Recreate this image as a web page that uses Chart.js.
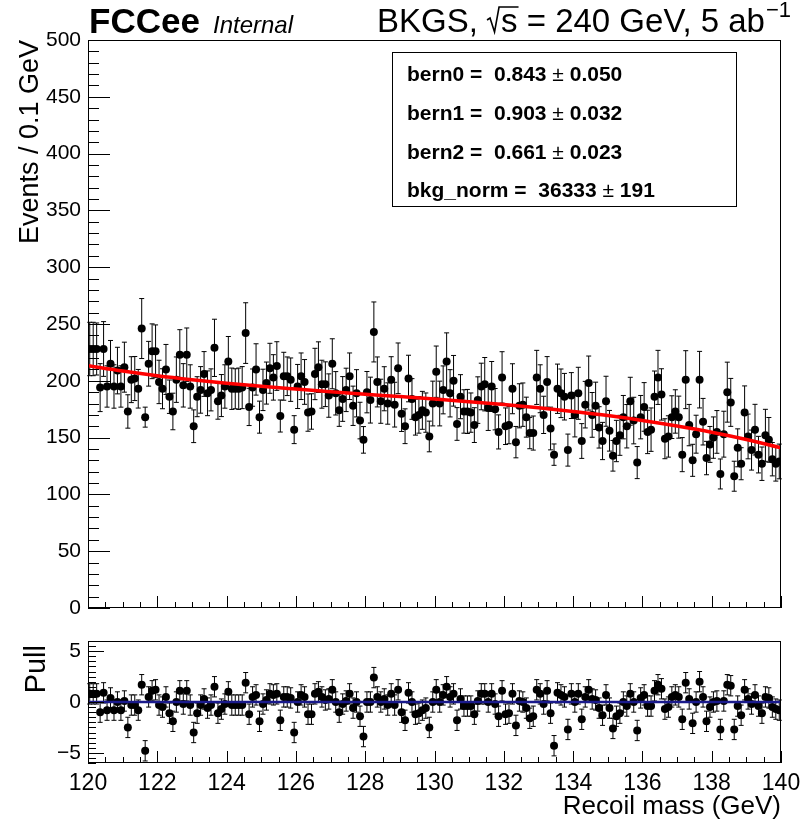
<!DOCTYPE html>
<html>
<head>
<meta charset="utf-8">
<script src="https://cdn.jsdelivr.net/npm/chart.js@4.4.1/dist/chart.umd.min.js"></script>
<style>
html, body { margin: 0; padding: 0; background: #fff; }
#wrap { position: relative; width: 809px; height: 819px; background: #fff; }
#main { position: absolute; left: 0; top: 0; }
#pull { position: absolute; left: 0; top: 620px; }
</style>
</head>
<body>
<div id="wrap">
  <canvas id="main" width="809" height="620"></canvas>
  <canvas id="pull" width="809" height="199"></canvas>
</div>
<script>
// binning of the histogram
const massMin = 120, massMax = 140, binWidth = 0.1;

// events per 0.1 GeV bin
const counts = [
  228, 228, 228, 194, 228, 195, 215, 195, 209, 195, 212, 173, 201, 202, 193, 246, 168, 215, 226, 226,
  199, 193, 210, 186, 173, 201, 223, 196, 223, 195, 160, 186, 192, 206, 189, 192, 229, 182, 187, 195,
  217, 193, 193, 193, 194, 242, 177, 194, 210, 168, 192, 198, 211, 203, 213, 169, 204, 204, 201, 157,
  195, 204, 199, 172, 173, 206, 212, 197, 197, 187, 215, 189, 174, 184, 192, 204, 178, 189, 165, 148,
  190, 183, 243, 199, 182, 193, 180, 201, 179, 211, 171, 160, 202, 184, 168, 170, 174, 172, 151, 180,
  208, 180, 192, 217, 189, 200, 162, 186, 173, 173, 172, 161, 183, 195, 197, 176, 195, 175, 155, 203,
  160, 161, 193, 146, 178, 179, 168, 154, 154, 203, 193, 170, 199, 158, 135, 193, 189, 186, 139, 187,
  170, 189, 147, 179, 198, 170, 178, 159, 147, 182, 156, 134, 147, 152, 168, 160, 182, 165, 128, 168,
  177, 155, 157, 186, 203, 188, 149, 151, 168, 173, 168, 135, 201, 161, 130, 153, 201, 164, 132, 144,
  150, 155, 118, 153, 190, 181, 116, 141, 127, 172, 151, 139, 157, 135, 127, 152, 148, 131, 127, 129
];

// half length of each error bar (weighted events)
const errors = [
  23.5, 23.5, 22.9, 21.1, 24.1, 18.2, 20.5, 19.1, 20.5, 18.2, 22.0, 14.7, 20.2, 19.4, 17.0, 26.4, 8.8, 19.7, 24.1, 23.2,
  19.1, 17.6, 22.0, 14.7, 16.1, 20.0, 22.0, 19.1, 23.5, 19.1, 14.4, 17.6, 20.5, 19.7, 19.7, 18.5, 25.2, 15.8, 18.5, 19.1,
  22.0, 18.2, 17.6, 18.2, 18.5, 26.7, 16.4, 16.4, 22.6, 14.1, 18.2, 18.5, 22.0, 20.0, 21.4, 14.1, 21.1, 17.0, 19.1, 12.3,
  19.4, 20.5, 19.7, 16.4, 15.6, 22.6, 22.3, 21.1, 19.7, 19.1, 22.0, 19.1, 14.1, 19.7, 19.1, 20.5, 17.3, 20.8, 16.1, 11.7,
  18.2, 20.2, 26.4, 22.0, 19.4, 19.4, 18.2, 20.2, 19.7, 22.3, 15.6, 15.3, 20.5, 17.9, 15.8, 16.1, 16.7, 17.3, 13.5, 19.7,
  22.6, 19.7, 21.1, 25.2, 20.8, 22.3, 14.4, 19.4, 19.1, 19.4, 17.3, 15.3, 20.5, 20.5, 23.5, 19.7, 22.0, 18.2, 15.0, 22.6,
  16.1, 16.4, 22.0, 13.8, 19.4, 19.1, 17.6, 13.8, 15.0, 23.8, 21.1, 16.4, 22.3, 18.8, 9.4, 21.7, 21.4, 20.5, 14.1, 20.2,
  19.4, 22.9, 15.3, 20.5, 23.8, 19.7, 20.8, 18.2, 16.4, 22.0, 17.9, 13.5, 18.2, 17.6, 19.1, 19.1, 21.1, 20.5, 14.1, 19.1,
  21.4, 19.1, 19.1, 22.6, 23.8, 22.6, 17.6, 18.2, 18.8, 19.1, 18.5, 15.0, 25.5, 18.2, 14.1, 16.7, 24.9, 20.5, 14.7, 15.8,
  18.2, 18.8, 13.2, 20.2, 26.4, 21.1, 13.2, 16.7, 14.1, 23.5, 19.7, 17.6, 22.3, 16.1, 14.7, 22.9, 19.7, 14.7, 15.3, 15.3
];

// pulls shown in the lower panel
const pulls = [
  0.8, 0.8, 0.8, -1.0, 0.9, -0.8, 0.4, -0.8, 0.0, -0.8, 0.1, -2.5, -0.3, -0.3, -0.8, 1.7, -4.8, 0.5, 1.1, 1.2,
  -0.3, -0.5, 0.5, -1.1, -1.9, 0.0, 1.1, -0.2, 1.1, -0.3, -3.0, -1.1, -0.3, 0.3, -0.6, -0.3, 1.5, -1.1, -0.7, -0.2,
  1.0, -0.3, -0.3, -0.3, -0.3, 1.9, -1.2, 0.5, 0.7, -1.9, -0.2, 0.2, 0.8, 0.7, 0.8, -1.8, 0.5, 0.5, 0.4, -3.0,
  0.0, 0.7, 0.5, -1.2, -1.2, 0.8, 1.0, 0.5, 0.2, 0.3, 1.2, 0.0, -1.0, -0.2, 0.1, 0.8, -0.6, 0.0, -1.4, -3.4,
  0.0, 0.0, 2.4, 0.5, 0.0, 0.3, -0.3, 0.8, -0.3, 1.2, -1.0, -1.8, 0.9, 0.0, -1.2, -1.1, -0.8, -0.6, -2.5, 0.0,
  1.2, 0.0, 0.7, 1.5, 0.5, 0.8, -1.8, 0.3, -0.4, -0.4, -0.4, -1.2, 0.1, 0.8, 0.8, 0.0, 0.8, -0.2, -1.4, 1.1,
  -1.2, -1.1, 0.8, -2.3, 0.1, 0.0, -0.6, -1.6, -1.4, 1.2, 0.8, -0.2, 1.1, -1.1, -4.3, 0.9, 0.7, 0.5, -2.7, 0.8,
  0.0, 0.8, -1.7, 0.5, 1.2, 0.3, 0.2, -0.6, -1.3, 0.7, -0.6, -2.6, -1.4, -1.1, 0.0, -0.4, 0.8, 0.0, -2.8, 0.4,
  0.7, -0.4, -0.4, 1.1, 1.7, 1.3, -0.7, -0.5, 0.5, 0.7, 0.5, -1.7, 1.9, 0.3, -2.1, 0.0, 2.0, 0.5, -1.9, -0.5,
  0.0, 0.1, -2.7, 0.1, 1.7, 1.6, -2.7, -0.4, -1.3, 1.2, 0.3, -0.2, 0.7, -0.4, -1.1, 0.5, 0.4, -0.5, -0.7, -0.8
];
const pullError = 1;

// background fit curve, sampled every 1 GeV
const fitMass = [120, 121, 122, 123, 124, 125, 126, 127, 128, 129, 130, 131, 132, 133, 134, 135, 136, 137, 138, 139, 140];
const fitCurve = [213.3, 208.6, 204.5, 201.0, 197.9, 195.1, 192.7, 190.4, 188.2, 186.1, 183.9, 181.6, 179.1, 176.3, 173.0, 169.4, 165.1, 160.2, 154.7, 148.3, 141.0];

// axis ticks
const mainYTicks = [0, 50, 100, 150, 200, 250, 300, 350, 400, 450, 500];
const pullYTicks = [-5, 0, 5];
const xTickLabels = [120, 122, 124, 126, 128, 130, 132, 134, 136, 138, 140];

// fit result box
const fitNames = ['bern0', 'bern1', 'bern2', 'bkg_norm'];
const fitValues = ['0.843', '0.903', '0.661', '36333'];
const fitErrors = ['0.050', '0.032', '0.023', '191'];

const FONT = '"Liberation Sans", Arial, Helvetica, sans-serif';

const binCenters = counts.map((c, i) => massMin + binWidth * (i + 0.5));

// vertical error bars with small caps, drawn under the markers
const errorBars = {
  id: 'errorBars',
  beforeDatasetsDraw(chart) {
    const ctx = chart.ctx, xs = chart.scales.x, ys = chart.scales.y;
    ctx.save();
    ctx.strokeStyle = '#000';
    ctx.lineWidth = 1;
    chart.data.datasets.forEach(ds => {
      if (!ds.errors) return;
      ds.data.forEach((p, i) => {
        const e = ds.errors[i];
        const x = xs.getPixelForValue(p.x);
        const y1 = ys.getPixelForValue(p.y - e), y2 = ys.getPixelForValue(p.y + e);
        ctx.beginPath();
        ctx.moveTo(x, y1); ctx.lineTo(x, y2);
        ctx.moveTo(x - 2.5, y1); ctx.lineTo(x + 2.5, y1);
        ctx.moveTo(x - 2.5, y2); ctx.lineTo(x + 2.5, y2);
        ctx.stroke();
      });
    });
    ctx.restore();
  }
};

function drawFrame(chart, xMajor, xMinor, yTicks, yMajorLen, yMinorLen, yMinorStep, yMin, yMax) {
  const ctx = chart.ctx, ca = chart.chartArea, xs = chart.scales.x, ys = chart.scales.y;
  ctx.save();
  ctx.strokeStyle = '#000';
  ctx.lineWidth = 1;
  ctx.strokeRect(Math.round(ca.left) + 0.5, Math.round(ca.top) + 0.5,
    Math.round(ca.right - ca.left) - 1, Math.round(ca.bottom - ca.top) - 1);
  ctx.beginPath();
  for (let v = massMin; v <= massMax + 1e-6; v += 0.5) {
    const x = Math.round(xs.getPixelForValue(v)) + 0.5;
    const major = Math.abs((v - massMin) % 2) < 1e-6;
    const len = major ? xMajor : xMinor;
    ctx.moveTo(x, ca.bottom); ctx.lineTo(x, ca.bottom - len);
  }
  for (let v = yMin; v <= yMax + 1e-6; v += yMinorStep) {
    const y = Math.round(ys.getPixelForValue(v)) + 0.5;
    const major = yTicks.some(t => Math.abs(t - v) < 1e-6);
    ctx.moveTo(ca.left, y); ctx.lineTo(ca.left + (major ? yMajorLen : yMinorLen), y);
  }
  ctx.stroke();
  ctx.restore();
}

const mainDecor = {
  id: 'mainDecor',
  afterDraw(chart) {
    const ctx = chart.ctx, ys = chart.scales.y;
    drawFrame(chart, 12, 6, mainYTicks, 22, 11, 10, 0, 500);
    ctx.save();
    ctx.fillStyle = '#000';
    ctx.strokeStyle = '#000';
    // y tick labels
    ctx.font = '21px ' + FONT;
    ctx.textAlign = 'right';
    ctx.textBaseline = 'middle';
    mainYTicks.forEach(v => ctx.fillText(String(v), 81, ys.getPixelForValue(v)));
    // y title
    ctx.save();
    ctx.translate(38, 40);
    ctx.rotate(-Math.PI / 2);
    ctx.textAlign = 'right';
    ctx.textBaseline = 'alphabetic';
    ctx.font = '27px ' + FONT;
    ctx.fillText('Events / 0.1 GeV', 0, 0);
    ctx.restore();
    // header
    ctx.textAlign = 'left';
    ctx.textBaseline = 'alphabetic';
    ctx.font = 'bold 35px ' + FONT;
    ctx.fillText('FCCee', 89, 33);
    ctx.font = 'italic 24px ' + FONT;
    ctx.fillText('Internal', 213, 33);
    ctx.font = '33px ' + FONT;
    let x = 377;
    const base = 32;
    ctx.fillText('BKGS,', x, base);
    x += ctx.measureText('BKGS, ').width;
    // square root sign over s
    const sW = ctx.measureText('s').width;
    ctx.lineWidth = 1.6;
    ctx.beginPath();
    ctx.moveTo(x, base - 12);
    ctx.lineTo(x + 3, base - 14);
    ctx.lineTo(x + 7.5, base);
    ctx.lineTo(x + 12, base - 25);
    ctx.lineTo(x + 14 + sW + 1, base - 25);
    ctx.stroke();
    x += 14;
    ctx.fillText('s', x, base);
    x += sW;
    ctx.fillText(' = 240 GeV, 5 ab', x, base);
    x += ctx.measureText(' = 240 GeV, 5 ab').width;
    ctx.font = '22px ' + FONT;
    ctx.fillText('\u22121', x + 1, base - 15);
    // fit results box
    ctx.lineWidth = 1;
    ctx.strokeRect(392.5, 52.5, 344, 154);
    const rowY = [81, 120, 159, 197];
    fitNames.forEach((n, i) => {
      let tx = 407;
      ctx.font = 'bold 21px ' + FONT;
      const s1 = n + ' =  ' + fitValues[i] + ' ';
      ctx.fillText(s1, tx, rowY[i]);
      tx += ctx.measureText(s1).width;
      ctx.font = '21px ' + FONT;
      ctx.fillText('\u00b1', tx, rowY[i]);
      tx += ctx.measureText('\u00b1').width;
      ctx.font = 'bold 21px ' + FONT;
      ctx.fillText(' ' + fitErrors[i], tx, rowY[i]);
    });
    ctx.restore();
  }
};

const pullDecor = {
  id: 'pullDecor',
  afterDraw(chart) {
    const ctx = chart.ctx, xs = chart.scales.x, ys = chart.scales.y;
    drawFrame(chart, 12, 6, pullYTicks, 16, 8, 0.5, -6, 6);
    ctx.save();
    ctx.fillStyle = '#000';
    ctx.font = '21px ' + FONT;
    ctx.textAlign = 'right';
    ctx.textBaseline = 'middle';
    pullYTicks.forEach(v => ctx.fillText(v < 0 ? '\u2212' + Math.abs(v) : String(v), 81, ys.getPixelForValue(v)));
    ctx.font = '23px ' + FONT;
    ctx.textAlign = 'center';
    ctx.textBaseline = 'alphabetic';
    xTickLabels.forEach(v => ctx.fillText(String(v), xs.getPixelForValue(v), 170));
    ctx.textAlign = 'right';
    ctx.font = '26px ' + FONT;
    ctx.fillText('Recoil mass (GeV)', 781, 194);
    ctx.save();
    ctx.translate(45, 25);
    ctx.rotate(-Math.PI / 2);
    ctx.font = '29px ' + FONT;
    ctx.textAlign = 'right';
    ctx.fillText('Pull', 0, 0);
    ctx.restore();
    ctx.restore();
  }
};

const hiddenScales = (ymin, ymax) => ({
  x: { type: 'linear', min: massMin, max: massMax, display: false },
  y: { type: 'linear', min: ymin, max: ymax, display: false }
});

new Chart(document.getElementById('main'), {
  type: 'scatter',
  data: {
    datasets: [
      {
        type: 'line',
        label: 'fit',
        data: fitMass.map((m, i) => ({ x: m, y: fitCurve[i] })),
        borderColor: '#ff0000',
        borderWidth: 3.5,
        pointRadius: 0,
        cubicInterpolationMode: 'monotone',
        order: 0
      },
      {
        label: 'data',
        data: binCenters.map((m, i) => ({ x: m, y: counts[i] })),
        errors: errors,
        backgroundColor: '#000',
        borderWidth: 0,
        pointRadius: 4,
        order: 1
      }
    ]
  },
  options: {
    responsive: false,
    animation: false,
    layout: { padding: { left: 88, right: 28, top: 40, bottom: 12 } },
    scales: hiddenScales(0, 500),
    plugins: { legend: { display: false }, tooltip: { enabled: false } }
  },
  plugins: [errorBars, mainDecor]
});

new Chart(document.getElementById('pull'), {
  type: 'scatter',
  data: {
    datasets: [
      {
        type: 'line',
        label: 'zero',
        data: [{ x: massMin, y: 0 }, { x: massMax, y: 0 }],
        borderColor: '#1a1a8c',
        borderWidth: 2.5,
        pointRadius: 0,
        order: 0
      },
      {
        label: 'pull',
        data: binCenters.map((m, i) => ({ x: m, y: pulls[i] })),
        errors: pulls.map(() => pullError),
        backgroundColor: '#000',
        borderWidth: 0,
        pointRadius: 4,
        order: 1
      }
    ]
  },
  options: {
    responsive: false,
    animation: false,
    layout: { padding: { left: 88, right: 28, top: 21, bottom: 56 } },
    scales: hiddenScales(-6, 6),
    plugins: { legend: { display: false }, tooltip: { enabled: false } }
  },
  plugins: [errorBars, pullDecor]
});
</script>
</body>
</html>
